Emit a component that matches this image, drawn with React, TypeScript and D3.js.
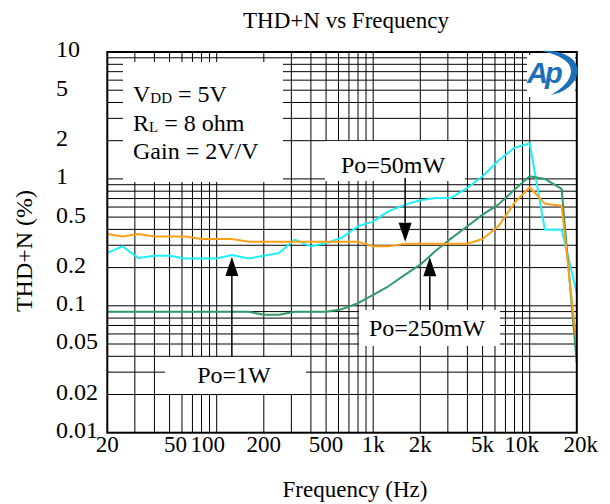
import React, { useRef, useEffect } from "react";
import * as d3 from "d3";

// 1/3-octave test frequencies (Hz)
const freqs = [20, 25, 31.5, 40, 50, 63, 80, 100, 125, 160, 200, 250, 315, 400, 500, 630, 800, 1000, 1250, 1600, 2000, 2500, 3150, 4000, 5000, 6300, 8000, 10000, 12500, 16000, 20000];

// THD+N (%), one value per frequency
const thdPo1W = [0.261, 0.294, 0.238, 0.248, 0.248, 0.236, 0.236, 0.236, 0.251, 0.236, 0.248, 0.261, 0.332, 0.294, 0.312, 0.344, 0.423, 0.463, 0.555, 0.627, 0.678, 0.708, 0.708, 0.849, 1.05, 1.39, 1.76, 1.9, 0.398, 0.398, 0.126];
const thdPo50mW = [0.368, 0.352, 0.368, 0.352, 0.352, 0.352, 0.336, 0.336, 0.336, 0.32, 0.32, 0.32, 0.32, 0.32, 0.32, 0.32, 0.32, 0.294, 0.294, 0.308, 0.308, 0.308, 0.308, 0.308, 0.336, 0.423, 0.647, 0.86, 0.638, 0.615, 0.048];
const thdPo250mW = [0.0897, 0.0897, 0.0897, 0.0897, 0.0897, 0.0897, 0.0897, 0.0897, 0.0897, 0.0897, 0.0849, 0.0849, 0.0897, 0.0897, 0.0897, 0.094, 0.105, 0.122, 0.1425, 0.176, 0.211, 0.27, 0.34, 0.423, 0.523, 0.627, 0.823, 1.05, 1.0, 0.834, 0.0353];

const xTickValues = [20, 50, 100, 200, 500, 1000, 2000, 5000, 10000, 20000];
const xTickLabels = ["20", "50", "100", "200", "500", "1k", "2k", "5k", "10k", "20k"];
const yTickValues = [10, 5, 2, 1, 0.5, 0.2, 0.1, 0.05, 0.02, 0.01];
const yTickLabels = ["10", "5", "2", "1", "0.5", "0.2", "0.1", "0.05", "0.02", "0.01"];

const FONT = "Liberation Serif, Times New Roman, DejaVu Serif, serif";

export default function App() {
  const svgRef = useRef<SVGSVGElement>(null);

  useEffect(() => {
    const width = 610;
    const height = 504;
    const marginTop = 52;
    const marginRight = 33.2;
    const marginBottom = 71.3;
    const marginLeft = 107.3;

    const svg = d3.select(svgRef.current)
      .attr("width", width)
      .attr("height", height)
      .attr("viewBox", [0, 0, width, height] as any)
      .attr("font-family", FONT);

    svg.selectAll("*").remove();

    svg.append("rect").attr("width", width).attr("height", height).attr("fill", "#fff");

    const x = d3.scaleLog().domain([20, 20000]).range([marginLeft, width - marginRight]);
    const y = d3.scaleLog().domain([0.01, 10]).range([height - marginBottom, marginTop]);

    // log grid: every 1..9 step of each decade
    const xGrid: number[] = [];
    [10, 100, 1000, 10000].forEach(d => d3.range(1, 10).forEach(k => {
      const v = k * d;
      if (v > 20 && v < 20000) xGrid.push(v);
    }));
    const yGrid: number[] = [];
    [0.01, 0.1, 1].forEach(d => d3.range(1, 10).forEach(k => {
      const v = k * d;
      if (v > 0.01 && v < 10) yGrid.push(v);
    }));

    const grid = svg.append("g").attr("stroke", "#000").attr("stroke-width", 1);
    grid.selectAll("line.v").data(xGrid).join("line")
      .attr("x1", d => x(d)).attr("x2", d => x(d))
      .attr("y1", marginTop).attr("y2", height - marginBottom);
    grid.selectAll("line.h").data(yGrid).join("line")
      .attr("x1", marginLeft).attr("x2", width - marginRight)
      .attr("y1", d => y(d)).attr("y2", d => y(d));

    // white label boxes hiding the grid
    const boxes = [
      { x: 123, y: 62, w: 160, h: 120 },   // conditions
      { x: 325, y: 141, w: 140, h: 40 },   // Po=50mW
      { x: 165, y: 357, w: 141, h: 37 },   // Po=1W
      { x: 359, y: 310, w: 141, h: 36 },   // Po=250mW
      { x: 527, y: 55, w: 48, h: 42 },     // logo
    ];
    svg.append("g").selectAll("rect").data(boxes).join("rect")
      .attr("x", d => d.x).attr("y", d => d.y)
      .attr("width", d => d.w).attr("height", d => d.h)
      .attr("fill", "#fff");

    // curves
    const series = [
      { values: thdPo1W, color: "#1ff0f6" },
      { values: thdPo250mW, color: "#33996a" },
      { values: thdPo50mW, color: "#ffa01a" },
    ];
    const line = d3.line<number>()
      .x((_, i) => x(freqs[i]))
      .y(d => y(d));
    svg.append("g").attr("fill", "none").attr("stroke-width", 2).attr("stroke-linejoin", "round")
      .selectAll("path").data(series).join("path")
      .attr("stroke", d => d.color)
      .attr("d", d => line(d.values));

    // frame
    svg.append("rect")
      .attr("x", marginLeft).attr("y", marginTop)
      .attr("width", width - marginLeft - marginRight)
      .attr("height", height - marginTop - marginBottom)
      .attr("fill", "none").attr("stroke", "#000").attr("stroke-width", 2);

    // x tick labels (a few nudged like the original)
    const xNudge: Record<string, number> = { "50": 6, "100": -9, "10k": -8, "20k": 4 };
    svg.append("g").attr("font-size", 23).attr("text-anchor", "middle")
      .selectAll("text").data(xTickValues).join("text")
      .attr("x", (d, i) => x(d) + (xNudge[xTickLabels[i]] || 0))
      .attr("y", 452)
      .text((d, i) => xTickLabels[i]);

    // y tick labels, left aligned
    svg.append("g").attr("font-size", 24)
      .selectAll("text").data(yTickValues).join("text")
      .attr("x", 56)
      .attr("y", d => y(d) - 3)
      .attr("dy", "0.35em")
      .text((d, i) => yTickLabels[i]);

    // titles
    svg.append("text").attr("x", 346).attr("y", 28).attr("text-anchor", "middle")
      .attr("font-size", 23).text("THD+N vs Frequency");
    svg.append("text").attr("x", 355).attr("y", 497).attr("text-anchor", "middle")
      .attr("font-size", 23).text("Frequency (Hz)");
    svg.append("text").attr("transform", "translate(32,251) rotate(-90)").attr("text-anchor", "middle")
      .attr("font-size", 24).text("THD+N (%)");

    // test conditions
    const cond = svg.append("g").attr("font-size", 24);
    const t1 = cond.append("text").attr("x", 133).attr("y", 102);
    t1.append("tspan").text("V");
    t1.append("tspan").attr("font-size", 15).attr("dy", 1).text("DD");
    t1.append("tspan").attr("dy", -1).text(" = 5V");
    const t2 = cond.append("text").attr("x", 133).attr("y", 130.5);
    t2.append("tspan").text("R");
    t2.append("tspan").attr("font-size", 15).attr("dy", 1).text("L");
    t2.append("tspan").attr("dy", -1).text(" = 8 ohm");
    cond.append("text").attr("x", 133).attr("y", 159).text("Gain = 2V/V");

    // annotations with arrows pointing at a curve
    const notes = [
      { label: "Po=50mW", tx: 393, ty: 172.5, f: 1600, v: 0.308, from: 178, dir: 1 },
      { label: "Po=1W", tx: 234, ty: 382.5, f: 125, v: 0.251, from: 357, dir: -1 },
      { label: "Po=250mW", tx: 427, ty: 336, f: 2300, v: 0.25, from: 310, dir: -1 },
    ];
    const ann = svg.append("g");
    notes.forEach(n => {
      const ax = x(n.f);
      const tip = y(n.v) - n.dir * 2;
      const base = tip - n.dir * 19;
      ann.append("line").attr("x1", ax).attr("x2", ax).attr("y1", n.from).attr("y2", base)
        .attr("stroke", "#000").attr("stroke-width", 1.5);
      ann.append("path")
        .attr("d", `M${ax},${tip}L${ax - 6.5},${base}L${ax + 6.5},${base}Z`)
        .attr("fill", "#000");
      ann.append("text").attr("x", n.tx).attr("y", n.ty).attr("text-anchor", "middle")
        .attr("font-size", 24).text(n.label);
    });

    // Ap logo
    const logo = svg.append("g").attr("fill", "#1d6fb8");
    logo.append("path")
      .attr("d", "M540,51 C568,49 583,63 576,78 C571,88 561,93 551,95 C563,88 571,80 571,71 C571,61 558,54 540,51 Z");
    logo.append("text").attr("x", 527).attr("y", 83)
      .attr("font-family", "Liberation Sans, Arial, sans-serif")
      .attr("font-size", 29).attr("font-weight", "bold").attr("font-style", "italic")
      .attr("letter-spacing", -3)
      .text("Ap");
  }, []);

  return <svg ref={svgRef} style={{ position: "absolute", left: 0, top: 0, display: "block" }}></svg>;
}
